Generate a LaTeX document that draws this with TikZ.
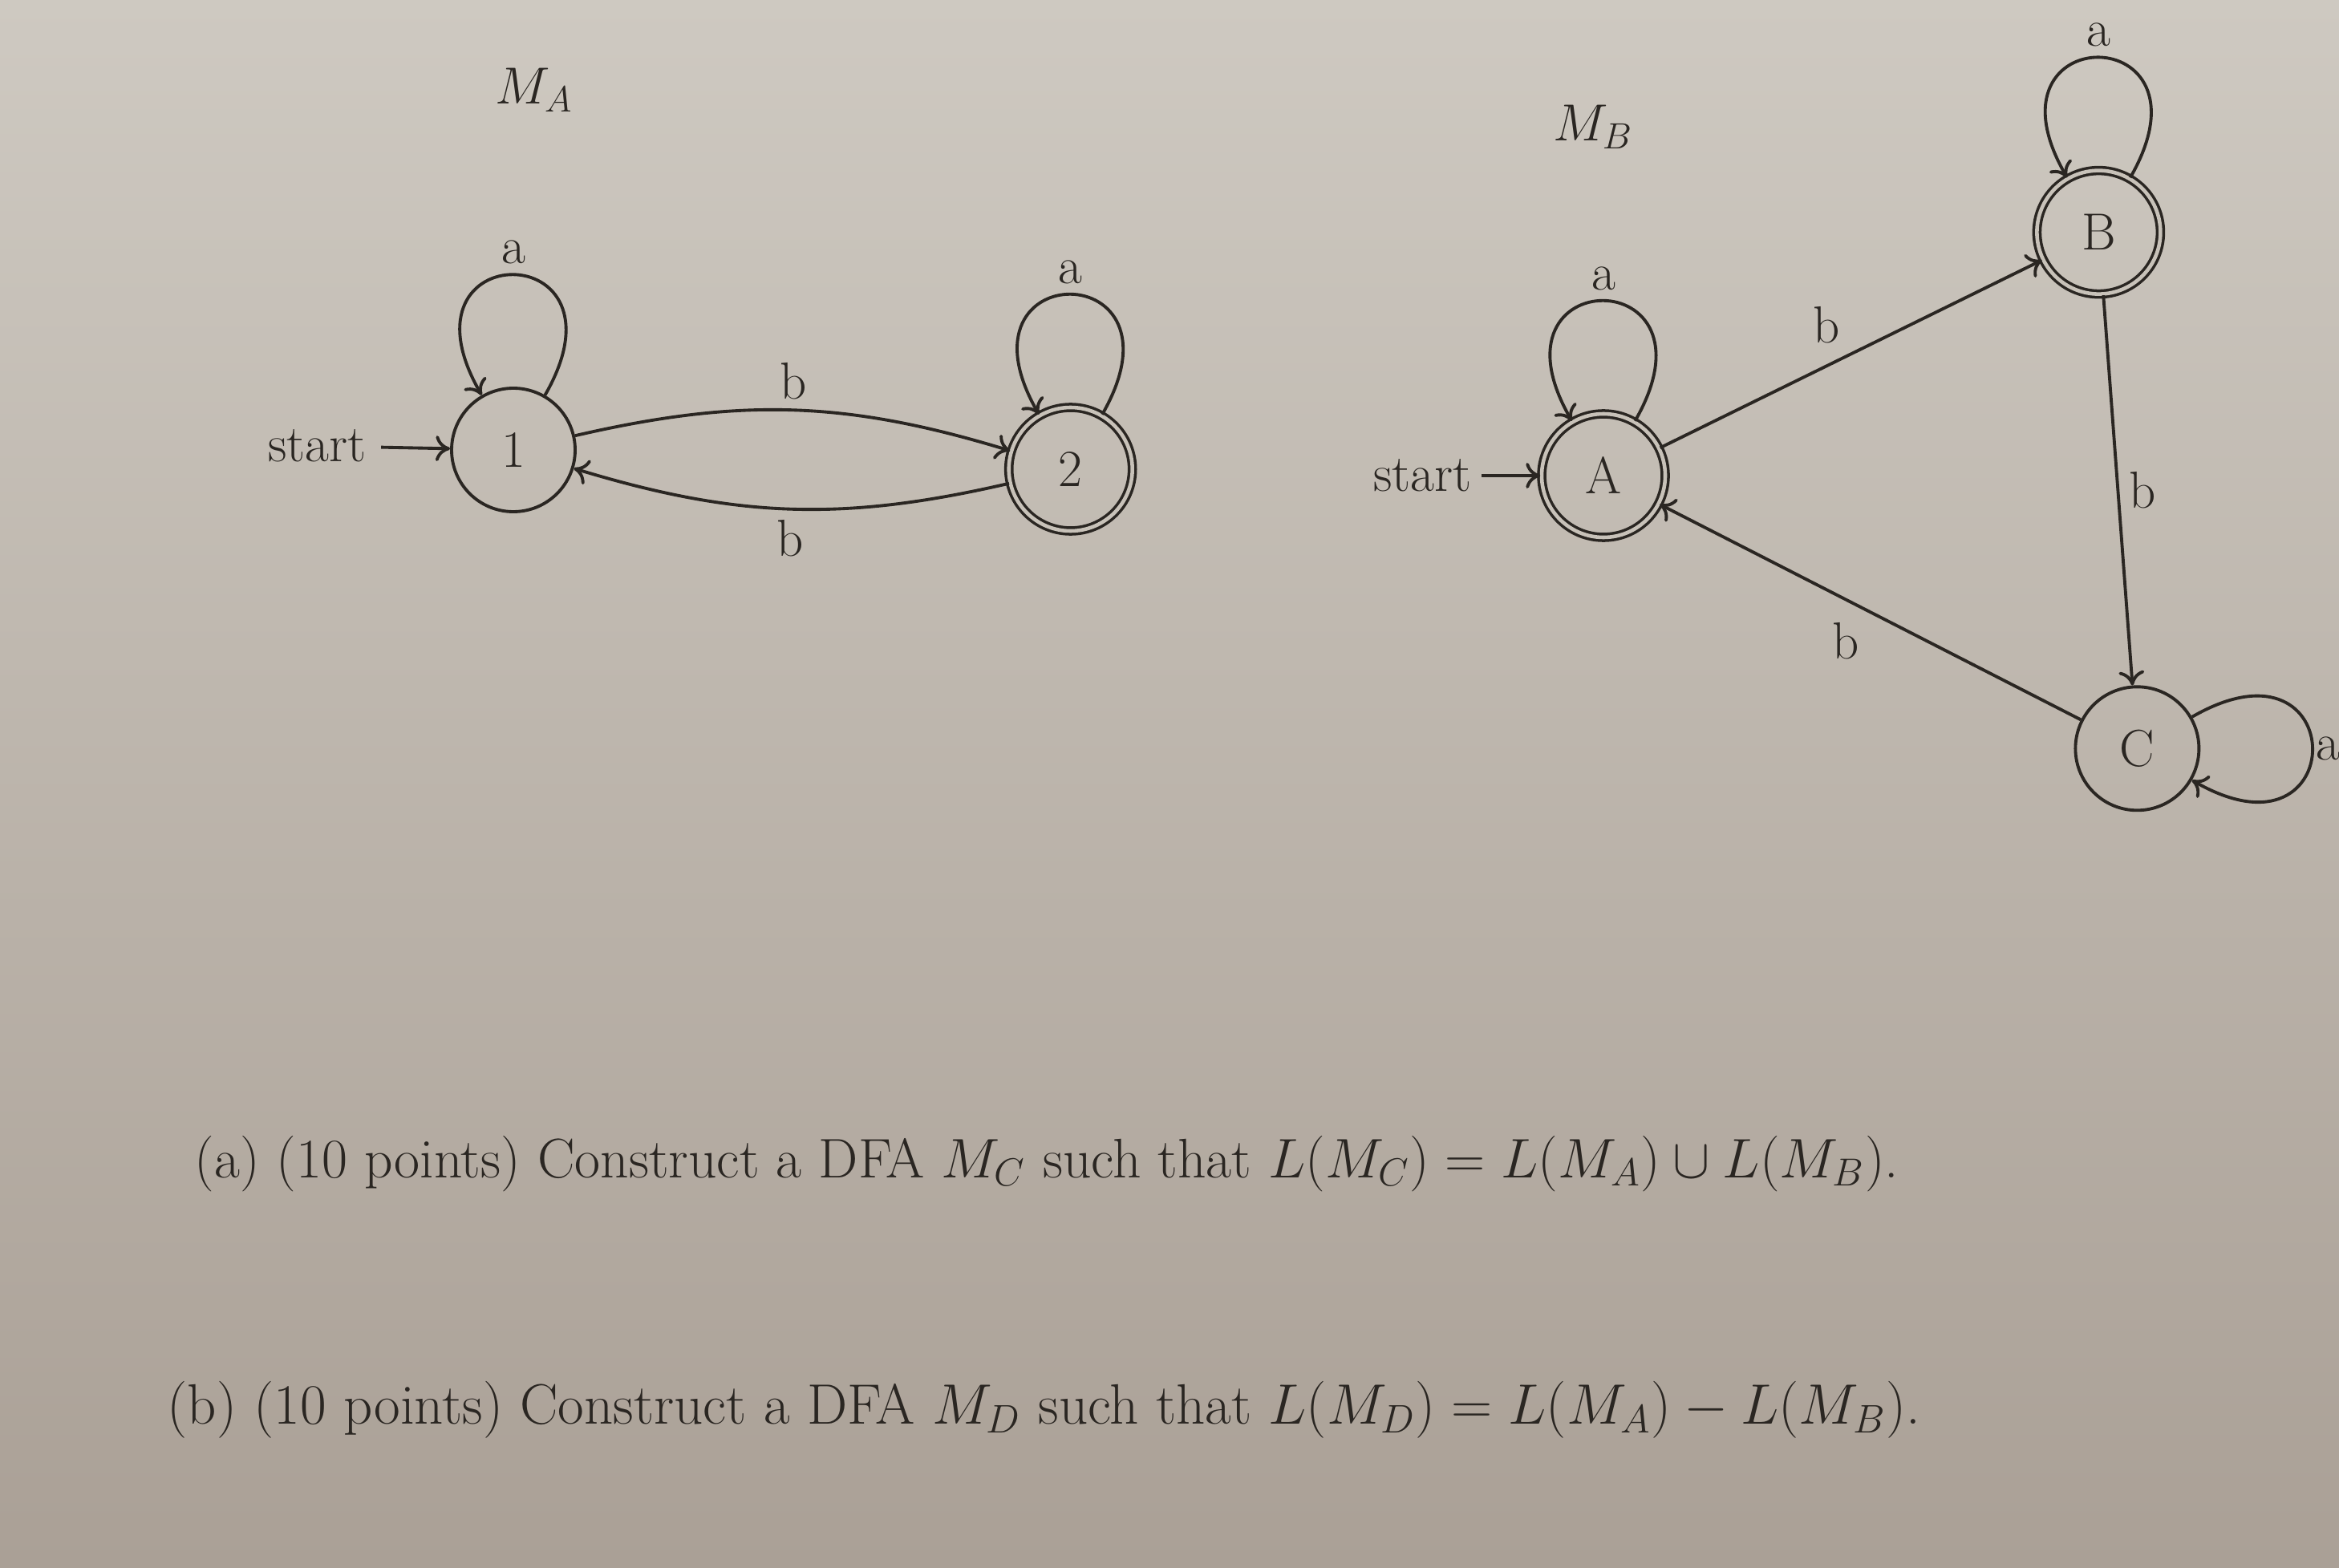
\documentclass[tikz,border=0pt]{standalone}
\usepackage{fix-cm}
\usetikzlibrary{
	positioning,
	arrows.meta
}
\definecolor{paperTop}{HTML}{CEC9C1}
\definecolor{paperBot}{HTML}{AAA096}
\definecolor{paperMid}{HTML}{C8C2B9}
\definecolor{ink}{HTML}{2A2622}

\begin{document}
\begin{tikzpicture}[
	node distance = 5cm and 5cm,
	every node/.style = {text=ink},
	state/.style = {
		circle, draw=ink, line width=1.1pt,
		minimum size=15.4mm, inner sep=0pt,
		font=\fontsize{18.5}{22}\selectfont
	},
	accepting/.style = {
		double=paperMid, double distance=1.3pt, line width=1pt
	},
	lbl/.style = {font=\fontsize{18.5}{22}\selectfont},
	trans/.style = {
		draw=ink, line width=1.1pt,
		-{To[length=1.8mm,width=3.2mm]}
	},
	selfloop/.style = {out=60, in=120, looseness=7.5},
	question/.style = {
		anchor=west, inner sep=0pt
	}
]
	% paper
	\shade[top color=paperTop, bottom color=paperBot] (0,0) rectangle (29.16,-19.55);
	\useasboundingbox (0,0) rectangle (29.16,-19.55);

	% M_A
	\node (ma) [lbl] at (6.66,-1.12) {$M_A$};
	\node (s1) [state] at (6.40,-5.61) {1};
	\node (s2) [state, accepting, right=5.37cm of s1, yshift=-2.4mm] {2};
	\node (st1) [lbl, left=0.92cm of s1, yshift=0.5mm] {start};

	\draw[trans, shorten <=0.6mm] (st1) -- (s1);
	\draw[trans] (s1) to[selfloop] node[lbl, above] {a} (s1);
	\draw[trans] (s2) to[selfloop] node[lbl, above] {a} (s2);
	\draw[trans] (s1) to[bend left=15] node[lbl, auto] {b} (s2);
	\draw[trans] (s2) to[bend left=15] node[lbl, auto] {b} (s1);

	% M_B
	\node (mb) [lbl] at (19.86,-1.58) {$M_B$};
	\node (sA) [state, accepting] at (19.99,-5.93) {A};
	\node (sB) [state, accepting, above right=1.92cm and 5.06cm of sA] {B};
	\node (sC) [state, below=4.86cm of sB, xshift=4.8mm] {C};
	\node (stA) [lbl, left=0.73cm of sA] {start};

	\draw[trans] (stA) -- (sA);
	\draw[trans] (sA) to[selfloop] node[lbl, above] {a} (sA);
	\draw[trans] (sB) to[selfloop] node[lbl, above] {a} (sB);
	\draw[trans] (sC) to[out=30, in=-30, looseness=7.5]
		node[lbl, right, inner sep=0.3mm] {a} (sC);
	\draw[trans] (sA) -- node[lbl, auto] {b} (sB);
	\draw[trans] (sB) -- node[lbl, right] {b} (sC);
	\draw[trans] (sC) -- node[lbl, auto] {b} (sA);

	% questions
	\node (qa) [question, font=\fontsize{19.8}{23}\selectfont] at (2.42,-14.51)
		{(a) (10 points) Construct a DFA $M_C$ such that $L(M_C)=L(M_A)\cup L(M_B)$.};
	\node (qb) [question, font=\fontsize{20.2}{24}\selectfont] at (2.08,-17.58)
		{(b) (10 points) Construct a DFA $M_D$ such that $L(M_D)=L(M_A)-L(M_B)$.};
\end{tikzpicture}
\end{document}
